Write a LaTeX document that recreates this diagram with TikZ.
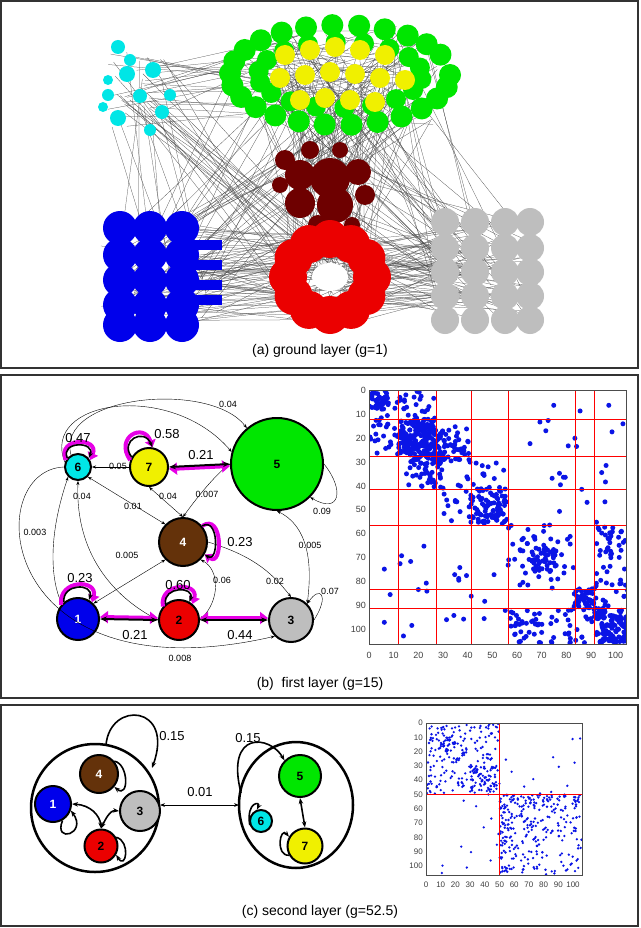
\documentclass[tikz,border=0pt]{standalone}
\usepackage{fontspec}
\setmainfont{Liberation Sans}
\usetikzlibrary{calc,arrows.meta}
\definecolor{cgreen}{RGB}{0,230,0}
\definecolor{ccyan}{RGB}{0,230,230}
\definecolor{cyel}{RGB}{240,240,0}
\definecolor{cbrown}{RGB}{100,50,10}
\definecolor{cblue}{RGB}{0,0,235}
\definecolor{cred}{RGB}{235,0,0}
\definecolor{cgray}{RGB}{190,190,190}
\definecolor{cdred}{RGB}{110,0,0}
\definecolor{mblue}{RGB}{10,20,230}
\definecolor{mag}{RGB}{230,0,230}
\newcommand\netlines[9]{\foreach \k in {1,...,#9}{%
  \pgfmathsetmacro\xa{#1+#3*rand}\pgfmathsetmacro\ya{#2+#4*rand}%
  \pgfmathsetmacro\xb{#5+#7*rand}\pgfmathsetmacro\yb{#6+#8*rand}%
  \draw[black!70,line width=0.25pt] (\xa,\ya)--(\xb,\yb);}}
\newcommand\mblk[6]{\foreach \k in {1,...,#5}{%
  \pgfmathsetmacro\da{#1+(#2-#1)*rnd}\pgfmathsetmacro\db{#3+(#4-#3)*rnd}%
  \fill[mblue] ({\MX+\MS*\da},{\MY+\MT*\db}) circle[radius=#6];
  \fill[mblue] ({\MX+\MS*\db},{\MY+\MT*\da}) circle[radius=#6];}}
\tikzset{
 gn/.style={circle,draw,line width=2pt,inner sep=0pt,minimum size=#1,font=\bfseries\fontsize{12}{12}\selectfont},
 ed/.style={line width=0.4pt,{Stealth[length=4pt]}-{Stealth[length=4pt]}},
 eo/.style={line width=0.4pt,-{Stealth[length=4pt]}},
 lb/.style={font=\fontsize{9}{9}\selectfont,inner sep=1pt},
 bl/.style={font=\fontsize{13}{13}\selectfont,inner sep=1pt},
 thk/.style={line width=2pt,{Stealth[length=7pt]}-{Stealth[length=7pt]}},
 mg/.style={mag,line width=4pt,{Triangle[length=8pt,width=12pt]}-{Triangle[length=8pt,width=12pt]}},
 mgl/.style={mag,line width=4pt,-{Triangle[length=7pt,width=11pt]}},
 bkl/.style={line width=1.6pt,-{Stealth[length=6pt]}},
 captxt/.style={font=\fontsize{14}{14}\selectfont},
 frame/.style={draw=black!80,line width=1.2pt},
 tk/.style={font=\fontsize{9}{9}\selectfont,inner sep=1pt,text=black!75}
}
\begin{document}
\begin{tikzpicture}[x=1pt,y=-1pt]
\useasboundingbox (0,0) rectangle (640,928);
\fill[white] (0,0) rectangle (640,928);
\pgfmathsetseed{7}
% ================= panel (a)
\draw[frame] (1,1) rectangle (638,368);
\netlines{340}{75}{100}{50}{330}{185}{40}{40}{40}
\netlines{340}{75}{100}{50}{160}{275}{50}{50}{30}
\netlines{340}{75}{100}{50}{330}{275}{45}{45}{30}
\netlines{340}{75}{100}{50}{485}{270}{55}{50}{25}
\netlines{135}{90}{30}{40}{330}{275}{45}{45}{20}
\netlines{135}{90}{30}{40}{340}{75}{100}{50}{25}
\netlines{135}{90}{30}{40}{160}{275}{50}{50}{10}
\netlines{160}{275}{60}{50}{330}{275}{45}{45}{45}
\netlines{330}{275}{45}{45}{485}{270}{55}{50}{45}
\netlines{160}{275}{60}{50}{485}{270}{55}{50}{25}
\netlines{330}{185}{40}{40}{330}{275}{45}{45}{25}
\netlines{330}{185}{40}{40}{485}{270}{55}{50}{15}
\netlines{340}{75}{95}{45}{340}{75}{95}{45}{60}
% cyan
\foreach \x/\y/\r in {118/47/7,153/70/8,127/74/8,108/95/6,140/96/7,118/118/8,103/107/5,162/112/7,150/130/6,170/95/6,130/60/6,108/80/5}
  \fill[ccyan] (\x,\y) circle[radius=\r];
% green ring
\foreach \a in {0,14,...,346}
  \fill[cgreen] ({340+110*cos(\a)},{75+50*sin(\a)}) circle[radius=11];
\foreach \a in {7,27,...,347}
  \fill[cgreen] ({340+82*cos(\a)},{75+33*sin(\a)}) circle[radius=10];
\foreach \x/\y in {285/55,310/50,335/47,360/50,385/55,280/78,305/75,330/72,355/74,380/78,405/80,300/100,325/98,350/100,375/102}
  \fill[cyel] (\x,\y) circle[radius=10];
% dark red
\foreach \x/\y/\r in {285/160/10,310/150/9,340/150/8,300/175/15,330/178/20,358/172/13,300/203/15,335/205/18,365/195/10,318/225/10,352/225/8,280/185/8}
  \fill[cdred] (\x,\y) circle[radius=\r];
% blue
\foreach \x in {120,150,182}
 \foreach \y in {228,255,280,305,325}
  \fill[cblue] (\x,\y) circle[radius=17];
\foreach \y in {245,265,285,300}
  \fill[cblue] (180,\y-5) rectangle (222,\y+5);
% red ring
\foreach \a in {0,30,...,330}
  \fill[cred] ({330+42*cos(\a)},{277+38*sin(\a)}) circle[radius=19];
\fill[white] (330,277) ellipse[x radius=18,y radius=14];
% gray
\foreach \x in {445,475,505,530}
 \foreach \y in {222,248,272,296,320}
  \fill[cgray] (\x,\y) circle[radius=14];
\node[captxt] (capa) at (320,351) {(a) ground layer (g=1)};
% ================= panel (b)
\draw[frame] (1,375) rectangle (638,698);
\node[gn=26pt,fill=ccyan] (n6) at (78,467) {6};
\node[gn=38pt,fill=cyel] (n7) at (149,467) {7};
\node[gn=92pt,fill=cgreen] (n5) at (277,464) {5};
\node[gn=48pt,fill=cbrown,text=white] (n4) at (183,542) {4};
\node[gn=42pt,fill=cblue,text=white] (n1) at (78,619) {1};
\node[gn=40pt,fill=cred] (n2) at (179,620) {2};
\node[gn=44pt,fill=cgray] (n3) at (291,620) {3};
% thin edges
\draw[eo] (n6.120) .. controls (55,395) and (210,380) .. (n5.130);
\node[lb] (l004a) at (228,404) {0.04};
\draw[eo] (n6.160) .. controls (40,400) and (170,380) .. (n5.165);
\draw[eo] (n7.west) -- (n6.east);
\node[lb] (l005) at (118,466) {0.05};
\draw[ed] (n6.south west) .. controls (40,560) and (60,600) .. (n1.north west);
\node[lb] (l003) at (35,532) {0.003};
\draw[ed] (n6.south) .. controls (75,560) and (120,600) .. (n2.west);
\node[lb] (l004b) at (82,496) {0.04};
\draw[eo] (n6.west) .. controls (-20,470) and (-5,700) .. (n3.south west);
\node[lb] (l008) at (180,658) {0.008};
\draw[ed] (n6.south east) -- (n4.north west);
\node[lb] (l001) at (133,506) {0.01};
\draw[ed] (n7.south) -- (n4.north);
\node[lb] (l004c) at (168,496) {0.04};
\draw[ed] (n4.north) .. controls (195,500) and (215,475) .. (n5.west);
\node[lb] (l007) at (207,494) {0.007};
\draw[ed] (n4.south west) -- (n1.north east);
\node[lb] (l005b) at (127,555) {0.005};
\draw[ed] (n4.south east) .. controls (220,570) and (220,600) .. (n2.east);
\node[lb] (l006) at (222,580) {0.06};
\draw[eo] (n4.east) .. controls (250,555) and (270,570) .. (n3.north);
\node[lb] (l002) at (275,581) {0.02};
\draw[ed] (n5.south) .. controls (315,530) and (310,580) .. (n3.north east);
\node[lb] (l005c) at (310,545) {0.005};
\draw[eo] (n5.east) .. controls (345,490) and (340,515) .. (n5.south east);
\node[lb] (l009) at (322,511) {0.09};
\draw[eo] (n3.east) .. controls (330,595) and (320,585) .. (n3.north east);
\node[lb] (l007b) at (330,591) {0.07};
% thick edges
\draw[mg] ([yshift=-2pt]n7.east) -- ([yshift=-2pt]n5.west);
\draw[thk] (n7.east) -- (n5.west);
\node[bl] (l021a) at (201,455) {0.21};
\draw[mg] ([yshift=2pt]n1.east) -- ([yshift=2pt]n2.west);
\draw[thk] (n1.east) -- (n2.west);
\node[bl] (l021b) at (135,635) {0.21};
\draw[mg] ([yshift=2pt]n2.east) -- ([yshift=2pt]n3.west);
\draw[thk] (n2.east) -- (n3.west);
\node[bl] (l044) at (240,635) {0.44};
% self loops
\draw[mgl] (n6.150) .. controls ($(n6)+(-22,-30)$) and ($(n6)+(22,-30)$) .. (n6.30);
\draw[bkl] (n6.140) .. controls ($(n6)+(-18,-26)$) and ($(n6)+(18,-26)$) .. (n6.40);
\node[bl] (l047) at (78,438) {0.47};
\draw[mgl] (n7.160) .. controls ($(n7)+(-35,-30)$) and ($(n7)+(-5,-45)$) .. (n7.80);
\draw[bkl] (n7.150) .. controls ($(n7)+(-30,-26)$) and ($(n7)+(-5,-40)$) .. (n7.80);
\node[bl] (l058) at (167,434) {0.58};
\draw[mgl] (n4.40) .. controls ($(n4)+(40,-30)$) and ($(n4)+(40,25)$) .. (n4.-30);
\draw[bkl] (n4.40) .. controls ($(n4)+(36,-26)$) and ($(n4)+(36,22)$) .. (n4.-30);
\node[bl] (l023a) at (240,542) {0.23};
\draw[mgl] (n1.140) .. controls ($(n1)+(-20,-40)$) and ($(n1)+(20,-40)$) .. (n1.50);
\draw[bkl] (n1.130) .. controls ($(n1)+(-16,-36)$) and ($(n1)+(16,-36)$) .. (n1.60);
\node[bl] (l023b) at (80,578) {0.23};
\draw[mgl] (n2.140) .. controls ($(n2)+(-20,-38)$) and ($(n2)+(20,-38)$) .. (n2.50);
\draw[bkl] (n2.130) .. controls ($(n2)+(-16,-34)$) and ($(n2)+(16,-34)$) .. (n2.60);
\node[bl] (l060) at (178,585) {0.60};
% matrix (b)
\def\MX{369}\def\MS{2.467}\def\MY{390.5}\def\MT{2.385}
\begin{scope}
\clip (369,390.5) rectangle (626,644);
\mblk{0}{8}{0}{8}{25}{2.5}
\mblk{0}{12}{10}{27}{25}{2.5}
\mblk{12}{27}{12}{27}{80}{2.5}
\mblk{16}{30}{16}{32}{40}{2.5}
\mblk{27}{41}{15}{30}{40}{2.5}
\mblk{41}{56}{41}{56}{40}{2.5}
\mblk{56}{83}{56}{83}{25}{2.5}
\mblk{66}{76}{66}{76}{20}{2.5}
\mblk{83}{92}{83}{92}{25}{2.5}
\mblk{92}{106}{92}{106}{70}{2.5}
\mblk{56}{92}{92}{106}{35}{2.5}
\mblk{92}{106}{56}{83}{30}{2.5}
\mblk{27}{56}{30}{56}{20}{2.5}
\mblk{0}{56}{56}{106}{15}{2.5}
\mblk{56}{106}{0}{56}{10}{2.5}
\end{scope}
\foreach \v in {12,27.5,41.5,56.5,83.5,91.5}{
  \draw[red,line width=0.8pt] ({\MX+\MS*\v},390.5) -- ({\MX+\MS*\v},644);
  \draw[red,line width=0.8pt] (369,{\MY+\MT*\v}) -- (626,{\MY+\MT*\v});}
\draw[black!70,line width=0.6pt] (369,390.5) rectangle (626,644);
\foreach \v in {0,10,...,100}{
  \node[tk] (bx\v) at ({\MX+\MS*\v},655) {\v};
  \node[tk,anchor=east] (by\v) at (367,{\MY+\MT*\v}) {\v};}
\node[captxt] (capb) at (320,684) {(b)\ \ first layer (g=15)};
% ================= panel (c)
\draw[frame] (1,705) rectangle (638,926);
\draw[line width=2.5pt] (95,808) circle[radius=64];
\draw[line width=2.5pt] (296,805) ellipse[x radius=57,y radius=63];
\node[gn=38pt,fill=cbrown,text=white] (c4) at (99,774) {4};
\node[gn=36pt,fill=cblue,text=white] (c1) at (53,804) {1};
\node[gn=40pt,fill=cgray] (c3) at (140,811) {3};
\node[gn=33pt,fill=cred] (c2) at (101,846) {2};
\node[gn=42pt,fill=cgreen] (c5) at (300,776) {5};
\node[gn=22pt,fill=ccyan] (c6) at (261,821) {6};
\node[gn=35pt,fill=cyel] (c7) at (305,846) {7};
\coordinate (lr) at (160,805);
\coordinate (rl) at (239,805);
\draw[line width=0.6pt,{Stealth[length=5pt]}-{Stealth[length=5pt]}] (lr) -- (rl);
\node[bl] (c001) at (200,792) {0.01};
\draw[bkl] (106,745) .. controls (110,700) and (175,705) .. (152,768);
\node[bl] (c015a) at (172,736) {0.15};
\draw[bkl] (241,793) .. controls (225,730) and (270,735) .. (c5.north west);
\node[bl] (c015b) at (248,738) {0.15};
\draw[line width=1.6pt,{Stealth[length=6pt]}-{Stealth[length=6pt]}] (c1.east) .. controls (90,805) and (100,815) .. (c2.north);
\draw[line width=1.6pt,{Stealth[length=6pt]}-{Stealth[length=6pt]}] (c2.north) .. controls (105,820) and (110,810) .. (c3.west);
\draw[line width=1.6pt,{Stealth[length=6pt]}-{Stealth[length=6pt]}] (c5.south) -- (c7.north);
\draw[bkl] (c4.40) .. controls ($(c4)+(30,-10)$) and ($(c4)+(30,25)$) .. (c4.-40);
\draw[bkl] (c1.-60) .. controls ($(c1)+(0,40)$) and ($(c1)+(35,30)$) .. (c1.-20);
\draw[bkl] (c2.30) .. controls ($(c2)+(30,-5)$) and ($(c2)+(25,25)$) .. (c2.-30);
\draw[bkl] (c6.200) .. controls ($(c6)+(-15,-20)$) and ($(c6)+(0,-20)$) .. (c6.110);
\draw[bkl] (c7.210) .. controls ($(c7)+(-30,10)$) and ($(c7)+(-25,-20)$) .. (c7.150);
% matrix (c)
\def\MX{426}\def\MS{1.47}\def\MY{723}\def\MT{1.43}
\begin{scope}
\clip (426,723) rectangle (582,875);
\mblk{0}{50}{0}{50}{90}{1.3}
\mblk{30}{48}{30}{48}{40}{1.3}
\mblk{10}{20}{10}{20}{15}{1.3}
\mblk{50}{106}{50}{106}{110}{1.3}
\mblk{50}{60}{50}{106}{40}{1.3}
\mblk{0}{50}{50}{106}{12}{1.3}
\end{scope}
\draw[red,line width=0.8pt] ({\MX+\MS*50},723) -- ({\MX+\MS*50},875);
\draw[red,line width=0.8pt] (426,{\MY+\MT*50}) -- (582,{\MY+\MT*50});
\draw[black!70,line width=0.6pt] (426,723) rectangle (582,875);
\foreach \v in {0,10,...,100}{
  \node[tk,font=\fontsize{8}{8}\selectfont] (cx\v) at ({\MX+\MS*\v},885) {\v};
  \node[tk,font=\fontsize{8}{8}\selectfont,anchor=east] (cy\v) at (424,{\MY+\MT*\v}) {\v};}
\node[captxt] (capc) at (320,912) {(c) second layer (g=52.5)};
\end{tikzpicture}
\end{document}
